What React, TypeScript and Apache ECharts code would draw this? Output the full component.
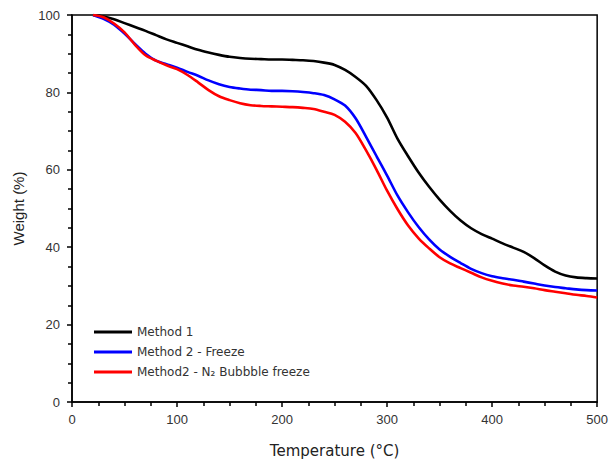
import React, { useEffect, useRef } from "react";
import * as echarts from "echarts";

const temps = [20, 30, 40, 50, 60, 70, 80, 90, 100, 110, 120, 130, 140, 150, 160, 170, 180, 190, 200, 210, 220, 230, 240, 250, 260, 270, 280, 290, 300, 310, 320, 330, 340, 350, 360, 370, 380, 390, 400, 410, 420, 430, 440, 450, 460, 470, 480, 490, 500];

const method1 = [100, 99.6, 98.9, 97.9, 96.9, 95.9, 94.8, 93.7, 92.8, 91.9, 91.0, 90.3, 89.7, 89.2, 88.9, 88.7, 88.6, 88.5, 88.5, 88.4, 88.3, 88.1, 87.7, 87.1, 85.8, 84.0, 81.7, 78.0, 73.5, 68.0, 63.5, 59.3, 55.6, 52.3, 49.4, 46.9, 44.9, 43.4, 42.2, 41.0, 39.9, 38.8, 37.2, 35.3, 33.7, 32.7, 32.2, 32.0, 31.9];

const method2Freeze = [100, 99.0, 97.5, 95.2, 92.5, 90.0, 88.2, 87.3, 86.4, 85.3, 84.3, 83.1, 82.1, 81.4, 81.0, 80.7, 80.6, 80.4, 80.4, 80.3, 80.1, 79.8, 79.3, 78.2, 76.6, 73.3, 68.5, 63.5, 58.5, 53.3, 49.0, 45.2, 42.0, 39.4, 37.5, 35.9, 34.4, 33.3, 32.5, 32.0, 31.6, 31.1, 30.6, 30.1, 29.7, 29.4, 29.1, 28.9, 28.8];

const method2N2 = [100, 99.4, 97.8, 95.5, 92.3, 89.6, 88.2, 87.0, 86.0, 84.5, 82.6, 80.6, 79.0, 78.0, 77.2, 76.7, 76.5, 76.4, 76.3, 76.2, 76.0, 75.7, 75.0, 74.2, 72.4, 69.5, 65.0, 60.0, 54.6, 49.8, 45.6, 42.3, 39.7, 37.4, 35.8, 34.6, 33.4, 32.2, 31.3, 30.6, 30.1, 29.8, 29.4, 28.9, 28.5, 28.1, 27.7, 27.4, 27.0];

const seriesNames = ["Method 1", "Method 2 - Freeze", "Method2 - N\u2082 Bubbble freeze"];
const seriesColors = ["#000000", "#0000ff", "#ff0000"];
const seriesValues = [method1, method2Freeze, method2N2];

export default function App() {
  const ref = useRef<HTMLDivElement>(null);
  useEffect(() => {
    if (!ref.current) return;
    const chart = echarts.init(ref.current, null, { renderer: "svg" });
    const font = "Arial, 'Liberation Sans', sans-serif";
    const axisCommon = {
      axisLine: { show: true, onZero: false, lineStyle: { color: "#000", width: 1.5 } },
      axisTick: { show: true, inside: false, length: 5, lineStyle: { color: "#000", width: 1.5 } },
      minorTick: { show: true, splitNumber: 4, length: 4, lineStyle: { color: "#000", width: 1.5 } },
      splitLine: { show: false },
      minorSplitLine: { show: false },
    };
    chart.setOption({
      animation: false,
      backgroundColor: "#ffffff",
      grid: {
        left: 72,
        right: 13,
        top: 15,
        bottom: 61,
        show: true,
        borderColor: "#000",
        borderWidth: 1.5,
        backgroundColor: "transparent",
      },
      legend: {
        orient: "vertical",
        left: 89,
        top: 320,
        icon: "rect",
        itemWidth: 38,
        itemHeight: 3,
        itemGap: 6,
        data: seriesNames,
        textStyle: { fontFamily: "DejaVu Sans, sans-serif", fontSize: 12, color: "#333", lineHeight: 14 },
      },
      xAxis: {
        type: "value",
        min: 0,
        max: 500,
        interval: 100,
        name: "Temperature (\u00b0C)",
        nameLocation: "middle",
        nameGap: 41,
        nameTextStyle: { fontFamily: "DejaVu Sans, sans-serif", fontSize: 15, color: "#222" },
        axisLabel: { fontFamily: font, fontSize: 13, color: "#333", margin: 11 },
        ...axisCommon,
      },
      yAxis: {
        type: "value",
        min: 0,
        max: 100,
        interval: 20,
        name: "Weight (%)",
        nameLocation: "middle",
        nameGap: 46,
        nameTextStyle: { fontFamily: font, fontSize: 15, color: "#222" },
        axisLabel: { fontFamily: font, fontSize: 13, color: "#333", margin: 12 },
        ...axisCommon,
      },
      series: seriesNames.map((name, i) => ({
        name,
        type: "line",
        showSymbol: false,
        symbol: "none",
        smooth: 0.3,
        clip: true,
        color: seriesColors[i],
        lineStyle: { color: seriesColors[i], width: 2.6 },
        data: temps.map((t, j) => [t, seriesValues[i][j]]),
      })),
    });
    return () => chart.dispose();
  }, []);
  return <div ref={ref} style={{ width: 611, height: 463, position: "absolute", left: 0, top: 0 }} />;
}
